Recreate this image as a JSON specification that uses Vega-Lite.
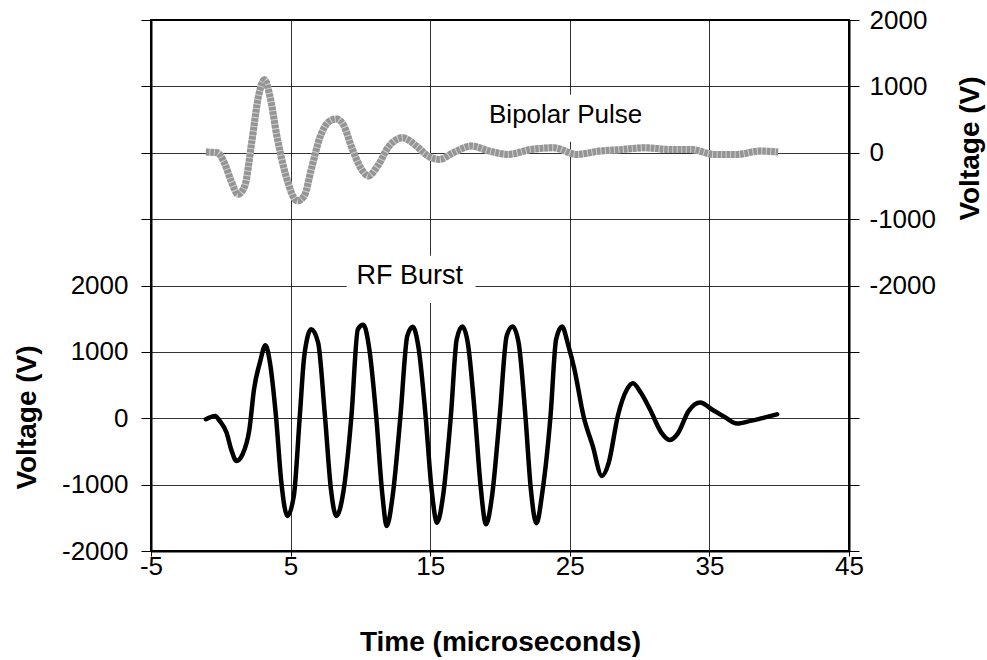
{
  "$schema": "https://vega.github.io/schema/vega-lite/v6.json",
  "width": 698,
  "height": 531,
  "autosize": "none",
  "padding": {"left": 151, "top": 20, "right": 138, "bottom": 109},
  "background": "white",
  "config": {
    "view": {"stroke": "black", "strokeWidth": 2},
    "font": "Liberation Sans",
    "axis": {
      "labelFont": "Liberation Sans",
      "labelFontSize": 26,
      "labelColor": "black",
      "titleFont": "Liberation Sans",
      "titleFontSize": 28,
      "titleFontWeight": "bold",
      "titleColor": "black",
      "domainColor": "black",
      "domainWidth": 2,
      "tickColor": "black",
      "tickWidth": 1,
      "gridColor": "black",
      "gridWidth": 1,
      "gridOpacity": 0.8
    }
  },
  "datasets": {
    "rf": [
      {"t": -1.07, "v": -15}, {"t": -0.41, "v": 35}, {"t": -0.08, "v": -40}, {"t": 0.41, "v": -216},
      {"t": 0.74, "v": -467}, {"t": 1.13, "v": -643}, {"t": 1.56, "v": -543}, {"t": 2.05, "v": -166},
      {"t": 2.38, "v": 437}, {"t": 2.8, "v": 839}, {"t": 3.2, "v": 1100}, {"t": 3.52, "v": 839},
      {"t": 3.95, "v": 35}, {"t": 4.34, "v": -970}, {"t": 4.77, "v": -1472}, {"t": 5.23, "v": -1171},
      {"t": 5.66, "v": 35}, {"t": 5.98, "v": 940}, {"t": 6.48, "v": 1342}, {"t": 6.97, "v": 1141},
      {"t": 7.46, "v": 35}, {"t": 7.89, "v": -1070}, {"t": 8.28, "v": -1472}, {"t": 8.77, "v": -1121},
      {"t": 9.36, "v": 35}, {"t": 9.82, "v": 1342}, {"t": 10.21, "v": 1407}, {"t": 10.64, "v": 1040},
      {"t": 11.13, "v": 35}, {"t": 11.56, "v": -1121}, {"t": 11.89, "v": -1623}, {"t": 12.31, "v": -1171},
      {"t": 12.87, "v": 35}, {"t": 13.36, "v": 1241}, {"t": 13.75, "v": 1377}, {"t": 14.18, "v": 1040},
      {"t": 14.67, "v": 35}, {"t": 15.1, "v": -1070}, {"t": 15.49, "v": -1573}, {"t": 15.92, "v": -1171},
      {"t": 16.48, "v": 35}, {"t": 16.9, "v": 1191}, {"t": 17.3, "v": 1382}, {"t": 17.69, "v": 1141},
      {"t": 18.21, "v": 35}, {"t": 18.61, "v": -1020}, {"t": 19.0, "v": -1598}, {"t": 19.43, "v": -1171},
      {"t": 19.98, "v": 35}, {"t": 20.48, "v": 1241}, {"t": 20.9, "v": 1382}, {"t": 21.33, "v": 1141},
      {"t": 21.82, "v": 35}, {"t": 22.21, "v": -1070}, {"t": 22.61, "v": -1583}, {"t": 23.03, "v": -1121},
      {"t": 23.62, "v": 35}, {"t": 24.02, "v": 1191}, {"t": 24.44, "v": 1382}, {"t": 24.9, "v": 1090},
      {"t": 25.33, "v": 739}, {"t": 25.98, "v": 35}, {"t": 26.64, "v": -417}, {"t": 27.3, "v": -869},
      {"t": 27.79, "v": -668}, {"t": 28.44, "v": 35}, {"t": 29.1, "v": 437}, {"t": 29.52, "v": 528},
      {"t": 30.08, "v": 387}, {"t": 30.74, "v": 136}, {"t": 31.56, "v": -216}, {"t": 32.15, "v": -327},
      {"t": 32.7, "v": -241}, {"t": 33.52, "v": 111}, {"t": 34.34, "v": 236}, {"t": 35.16, "v": 136},
      {"t": 36.15, "v": 10}, {"t": 36.97, "v": -80}, {"t": 37.95, "v": -40}, {"t": 38.93, "v": 10},
      {"t": 39.85, "v": 60}
    ],
    "bp": [
      {"t": -1.07, "v": 10}, {"t": -0.25, "v": 0}, {"t": 0.25, "v": -150}, {"t": 0.74, "v": -425},
      {"t": 1.23, "v": -625}, {"t": 1.72, "v": -500}, {"t": 2.21, "v": 150}, {"t": 2.7, "v": 850},
      {"t": 3.13, "v": 1100}, {"t": 3.52, "v": 850}, {"t": 4.02, "v": 250}, {"t": 4.67, "v": -350},
      {"t": 5.49, "v": -725}, {"t": 5.98, "v": -650}, {"t": 6.48, "v": -250}, {"t": 7.13, "v": 250},
      {"t": 7.79, "v": 475}, {"t": 8.28, "v": 510}, {"t": 8.77, "v": 425}, {"t": 9.43, "v": 50},
      {"t": 10.08, "v": -250}, {"t": 10.57, "v": -350}, {"t": 11.23, "v": -200}, {"t": 12.05, "v": 100},
      {"t": 13.03, "v": 225}, {"t": 14.02, "v": 100}, {"t": 14.84, "v": -50}, {"t": 15.66, "v": -100},
      {"t": 16.64, "v": 0}, {"t": 17.95, "v": 100}, {"t": 19.26, "v": 25}, {"t": 20.57, "v": -25},
      {"t": 22.21, "v": 50}, {"t": 23.85, "v": 75}, {"t": 25.49, "v": -25}, {"t": 27.13, "v": 25},
      {"t": 28.77, "v": 50}, {"t": 30.41, "v": 75}, {"t": 32.05, "v": 50}, {"t": 33.69, "v": 50},
      {"t": 35.33, "v": -25}, {"t": 36.97, "v": -25}, {"t": 38.61, "v": 25}, {"t": 39.92, "v": 10}
    ],
    "rfLabel": [{"t": 13.53, "v": 2136, "t2": 9.02, "t3": 18.25, "v2": 1735, "v3": 2450, "text": "RF Burst"}],
    "bpLabel": [{"t": 24.7, "v": 574, "t2": 18.3, "t3": 31.1, "v2": 166, "v3": 875, "text": "Bipolar Pulse"}]
  },
  "encoding": {
    "x": {
      "field": "t",
      "type": "quantitative",
      "scale": {"domain": [-5, 45], "nice": false, "zero": false},
      "axis": {
        "values": [-5, 5, 15, 25, 35, 45],
        "labelExpr": "'' + datum.value",
        "labelFlush": false,
        "labelOverlap": false,
        "title": "Time (microseconds)",
        "grid": true,
        "tickSize": 5,
        "labelPadding": -3,
        "titlePadding": 49
      }
    }
  },
  "layer": [
    {
      "encoding": {
        "y": {
          "field": "v",
          "type": "quantitative",
          "scale": {"domain": [-2000, 6000], "nice": false, "zero": false},
          "axis": {
            "orient": "left",
            "values": [-2000, -1000, 0, 1000, 2000, 3000, 4000, 5000, 6000],
            "labelExpr": "datum.value <= 2000 ? '' + datum.value : ''",
            "labelFlush": false,
            "title": "Voltage (V)",
            "titleAngle": 270,
            "titleX": -124,
            "titleY": 397,
            "titleAlign": "center",
            "titleBaseline": "middle",
            "grid": true,
            "tickSize": 10,
            "labelPadding": 13
          }
        }
      },
      "layer": [
        {
          "data": {"name": "rfLabel"},
          "mark": {"type": "rect", "fill": "white", "stroke": null},
          "encoding": {
            "x": {"field": "t2", "type": "quantitative"},
            "x2": {"field": "t3"},
            "y": {"field": "v2", "type": "quantitative"},
            "y2": {"field": "v3"}
          }
        },
        {
          "data": {"name": "rfLabel"},
          "mark": {"type": "text", "font": "Liberation Sans", "fontSize": 27, "color": "black", "align": "center", "baseline": "middle"},
          "encoding": {"text": {"field": "text"}}
        },
        {
          "data": {"name": "rf"},
          "mark": {"type": "line", "color": "black", "strokeWidth": 4.5, "interpolate": "monotone", "strokeJoin": "round", "strokeCap": "round"}
        }
      ]
    },
    {
      "encoding": {
        "y": {
          "field": "v",
          "type": "quantitative",
          "scale": {"domain": [-6000, 2000], "nice": false, "zero": false},
          "axis": {
            "orient": "right",
            "values": [-6000, -5000, -4000, -3000, -2000, -1000, 0, 1000, 2000],
            "labelExpr": "datum.value >= -2000 ? '' + datum.value : ''",
            "labelFlush": false,
            "title": "Voltage (V)",
            "titleAngle": 270,
            "titleX": 121,
            "titleY": 128,
            "titleAlign": "center",
            "titleBaseline": "middle",
            "grid": false,
            "tickSize": 10,
            "labelPadding": 10
          }
        }
      },
      "layer": [
        {
          "data": {"name": "bpLabel"},
          "mark": {"type": "rect", "fill": "white", "stroke": null},
          "encoding": {
            "x": {"field": "t2", "type": "quantitative"},
            "x2": {"field": "t3"},
            "y": {"field": "v2", "type": "quantitative"},
            "y2": {"field": "v3"}
          }
        },
        {
          "data": {"name": "bpLabel"},
          "mark": {"type": "text", "font": "Liberation Sans", "fontSize": 26, "color": "black", "align": "center", "baseline": "middle"},
          "encoding": {"text": {"field": "text"}}
        },
        {
          "data": {"name": "bp"},
          "mark": {"type": "line", "color": "#cfcfcf", "strokeWidth": 7, "interpolate": "monotone", "strokeJoin": "round"}
        },
        {
          "data": {"name": "bp"},
          "mark": {"type": "line", "color": "#959595", "strokeWidth": 7, "interpolate": "monotone", "strokeJoin": "round", "strokeDash": [3.5, 1]}
        }
      ]
    }
  ],
  "resolve": {"scale": {"y": "independent"}}
}
